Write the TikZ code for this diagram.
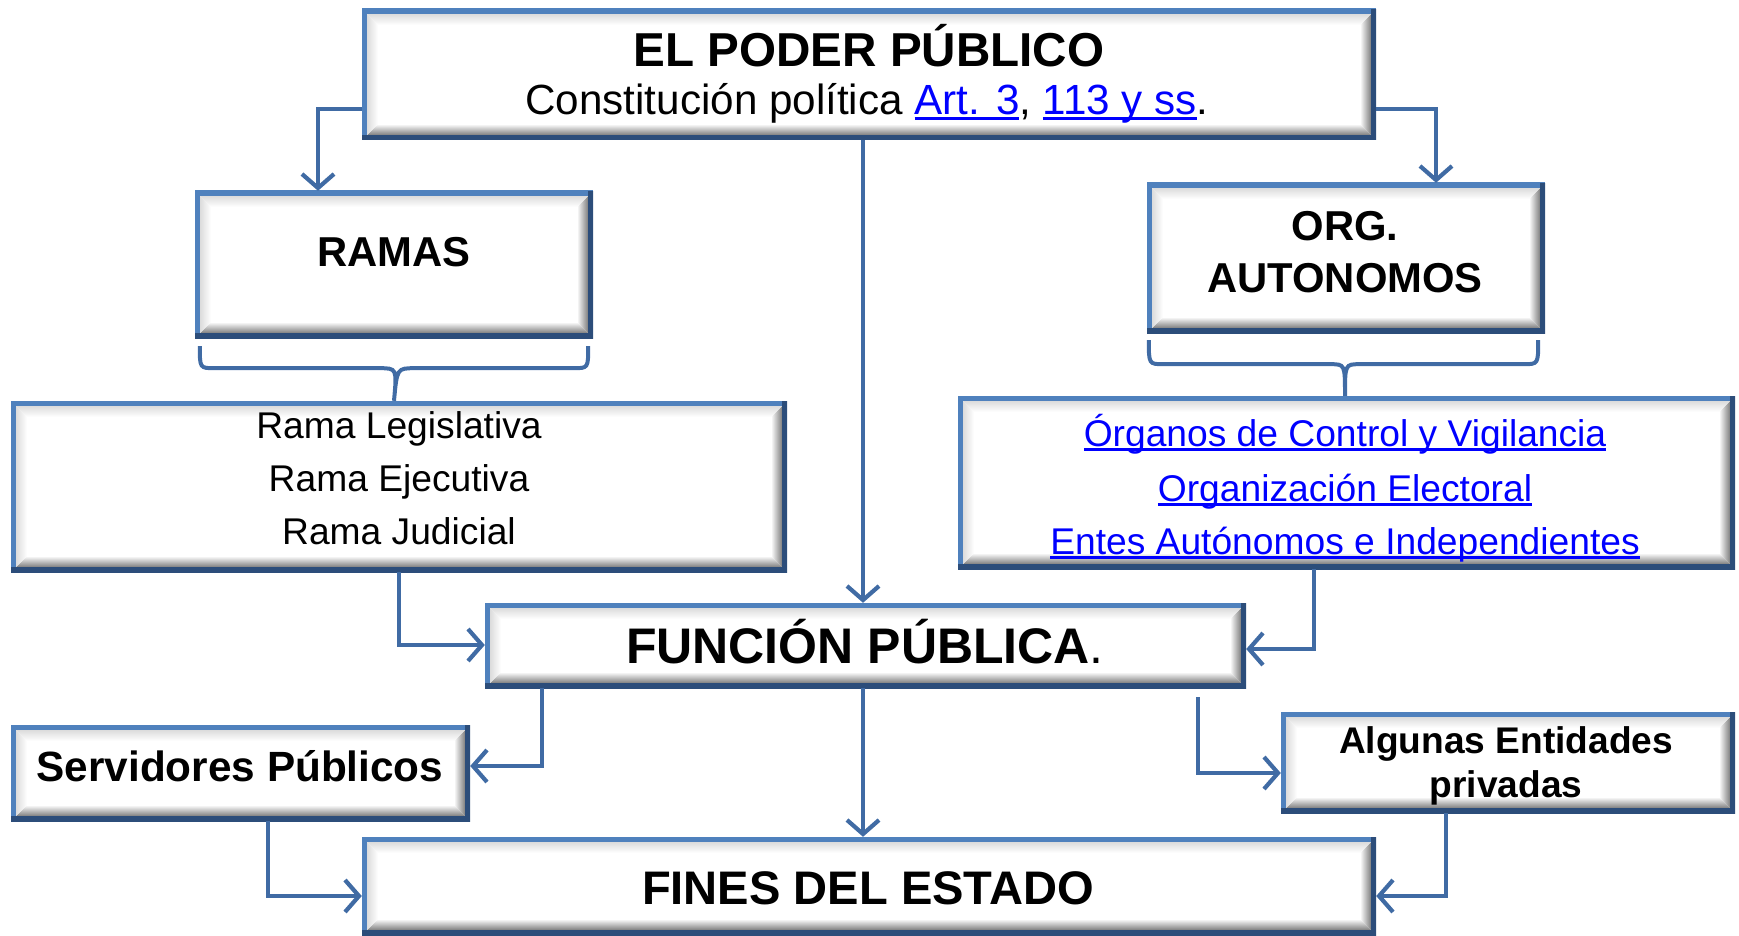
\documentclass[tikz,border=0pt]{standalone}
\usepackage{fontspec}
\setmainfont{Liberation Sans}
\usetikzlibrary{arrows.meta,calc}
\definecolor{bl}{HTML}{4F81BD}
\definecolor{bd}{HTML}{2C4D7A}
\definecolor{cn}{HTML}{406BA4}
\definecolor{lk}{HTML}{0000FF}
\newcommand\lnk[1]{\setbox0\hbox{#1}\rlap{\rule[-5pt]{\wd0}{2.6pt}}\box0}
\begin{document}
\begin{tikzpicture}[x=1pt,y=-1pt,
 box/.style={fill=white, draw=none, inner sep=0pt, path picture={
   \path (path picture bounding box.south west) coordinate (q1)
         (path picture bounding box.south east) coordinate (q2)
         (path picture bounding box.north east) coordinate (q3)
         (path picture bounding box.north west) coordinate (q4);
   \shade[top color=white,bottom color=black!55] ([shift={(4pt,4pt)}]q1) -- ([shift={(-4pt,4pt)}]q2) -- ([shift={(-16pt,16pt)}]q2) -- ([shift={(16pt,16pt)}]q1) -- cycle;
   \shade[left color=white,right color=black!55] ([shift={(-4pt,4pt)}]q2) -- ([shift={(-4pt,-4pt)}]q3) -- ([shift={(-16pt,-16pt)}]q3) -- ([shift={(-16pt,16pt)}]q2) -- cycle;
   \shade[left color=black!15,right color=white] ([shift={(4pt,4pt)}]q1) -- ([shift={(4pt,-4pt)}]q4) -- ([shift={(16pt,-16pt)}]q4) -- ([shift={(16pt,16pt)}]q1) -- cycle;
   \shade[top color=black!15,bottom color=white] ([shift={(4pt,-4pt)}]q4) -- ([shift={(-4pt,-4pt)}]q3) -- ([shift={(-16pt,-16pt)}]q3) -- ([shift={(16pt,-16pt)}]q4) -- cycle;
   \draw[line width=10pt,bl] (q1) -- (q4) -- (q3);
   \draw[line width=10pt,bd] (q3) -- (q2) -- (q1);
 }},
 conn/.style={draw=cn, line width=4.2pt, -{Straight Barb[length=14pt,width=32pt]}},
 brace/.style={draw=cn, line width=4pt},
 txt/.style={anchor=base, inner sep=0pt},
 big/.style={font=\fontsize{47.6}{50}\selectfont\bfseries},
 mid/.style={font=\fontsize{41.8}{50}\selectfont\bfseries},
 lst/.style={font=\fontsize{37.2}{44}\selectfont},
]
\useasboundingbox (0,0) rectangle (1739,936);
% boxes
\node[box,minimum width=1014pt,minimum height=131pt] (poder) at (869,74.5) {};
\node[box,minimum width=398pt,minimum height=147pt] (ramas) at (394,264.5) {};
\node[box,minimum width=776pt,minimum height=171pt] (ramaslist) at (399,486.5) {};
\node[box,minimum width=398pt,minimum height=150pt] (org) at (1346,258) {};
\node[box,minimum width=777pt,minimum height=173pt] (organos) at (1346.5,482.5) {};
\node[box,minimum width=761pt,minimum height=85pt] (func) at (865.5,645.5) {};
\node[box,minimum width=459pt,minimum height=96pt] (serv) at (240.5,773) {};
\node[box,minimum width=454pt,minimum height=101pt] (alg) at (1508,762.5) {};
\node[box,minimum width=1014pt,minimum height=98pt] (fines) at (869,886) {};
% texts
\node[txt,big] (t1) at (869,67) {EL PODER PÚBLICO};
\node[txt,font=\fontsize{42.2}{50}\selectfont] (t2) at (867,115) {Constitución política {\color{lk}\lnk{Art. 3}}, {\color{lk}\lnk{113 y ss}}.};
\node[txt,mid] (t3) at (394,266) {RAMAS};
\node[txt,mid] (t4) at (1345,240) {ORG.};
\node[txt,mid] (t5) at (1345,292) {AUTONOMOS};
\node[txt,lst] (r1) at (399,438) {Rama Legislativa};
\node[txt,lst] (r2) at (399,491) {Rama Ejecutiva};
\node[txt,lst] (r3) at (399,544) {Rama Judicial};
\node[txt,lst,text=lk] (o1) at (1345,446) {\lnk{Órganos de Control y Vigilancia}};
\node[txt,lst,text=lk] (o2) at (1345,501) {\lnk{Organización Electoral}};
\node[txt,lst,text=lk] (o3) at (1345,554) {\lnk{Entes Autónomos e Independientes}};
\node[txt] (t6) at (865,663) {\fontsize{50}{55}\selectfont\textbf{FUNCIÓN PÚBLICA}.};
\node[txt,font=\fontsize{42.3}{50}\selectfont\bfseries] (t7) at (240,781) {Servidores Públicos};
\node[txt,font=\fontsize{37.1}{44}\selectfont\bfseries] (t8) at (1506,753) {Algunas Entidades};
\node[txt,font=\fontsize{37.1}{44}\selectfont\bfseries] (t9) at (1506,797) {privadas};
\node[txt,font=\fontsize{47.1}{50}\selectfont\bfseries] (t10) at (868,904) {FINES DEL ESTADO};
% bend points
\coordinate (b1) at (318,109);
\coordinate (b2) at (1436,109);
\coordinate (b3) at (863,300);
\coordinate (b4) at (399,645);
\coordinate (b5) at (1314,649);
\coordinate (b6) at (542,766);
\coordinate (b7a) at (1198,697);
\coordinate (b7b) at (1198,773);
\coordinate (b8) at (268,896);
\coordinate (b9) at (1446,896);
% connectors
\draw[conn] (poder.west |- b1) -- (b1) -- (b1 |- ramas.north);
\draw[conn] (poder.east |- b2) -- (b2) -- (b2 |- org.north);
\draw[conn] (poder.south -| b3) -- (b3 |- func.north);
\draw[conn] (ramaslist.south -| b4) -- (b4) -- (b4 -| func.west);
\draw[conn] (organos.south -| b5) -- (b5) -- (b5 -| func.east);
\draw[conn] (func.south -| b6) -- (b6) -- (b6 -| serv.east);
\draw[conn] (func.south -| b3) -- (b3 |- fines.north);
\draw[conn] (b7a) -- (b7b) -- (b7b -| alg.west);
\draw[conn] (serv.south -| b8) -- (b8) -- (b8 -| fines.west);
\draw[conn] (alg.south -| b9) -- (b9) -- (b9 -| fines.east);
% braces
\draw[brace] ($(ramas.south west)+(5,8)$) .. controls ($(ramas.south west)+(5,30)$) .. ($(ramas.south west)+(20,30)$)
  -- ($(ramas.south)+(-15,30)$) .. controls ($(ramas.south)+(3,30)$) .. (ramaslist.north -| ramas.south)
  .. controls ($(ramas.south)+(3,30)$) .. ($(ramas.south)+(21,30)$)
  -- ($(ramas.south east)+(-20,30)$) .. controls ($(ramas.south east)+(-5,30)$) .. ($(ramas.south east)+(-5,8)$);
\draw[brace] ($(org.south west)+(2,7)$) .. controls ($(org.south west)+(2,31)$) .. ($(org.south west)+(17,31)$)
  -- ($(org.south)+(-16,31)$) .. controls ($(org.south)+(-1,31)$) .. (organos.north -| 1345,0)
  .. controls ($(org.south)+(-1,31)$) .. ($(org.south)+(14,31)$)
  -- ($(org.south east)+(-22,31)$) .. controls ($(org.south east)+(-7,31)$) .. ($(org.south east)+(-7,7)$);
\end{tikzpicture}
\end{document}
